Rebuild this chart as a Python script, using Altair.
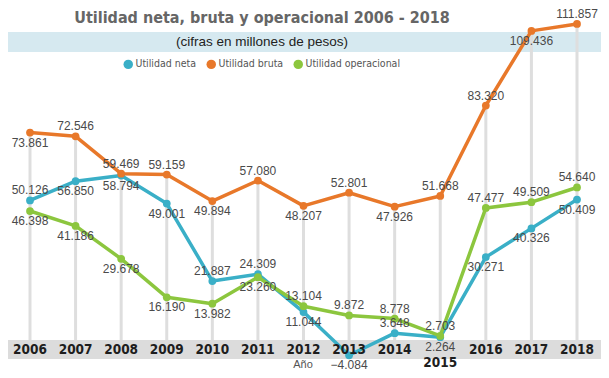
import altair as alt
import pandas as pd

# ---------------- data ----------------
years = list(range(2006, 2019))
series_names = ["Utilidad neta", "Utilidad bruta", "Utilidad operacional"]
series_colors = ["#3aafc7", "#e8782a", "#8cc63e"]

neta = [50.126, 56.850, 58.794, 49.001, 21.887, 24.309, 11.044, -4.084, 3.648, 2.264, 30.271, 40.326, 50.409]
bruta = [73.861, 72.546, 59.469, 59.159, 49.894, 57.080, 48.207, 52.801, 47.926, 51.668, 83.320, 109.436, 111.857]
operacional = [46.398, 41.186, 29.678, 16.190, 13.982, 23.260, 13.104, 9.872, 8.778, 2.703, 47.477, 49.509, 54.640]

# label placement: a = above the point, b = below the point
place_neta = list("abbbaabbabbbb")
place_bruta = list("baaabababaaba")
place_oper = list("bbbbbbaaaaaaa")

title_text = "Utilidad neta, bruta y operacional 2006 - 2018"
subtitle_text = "(cifras en millones de pesos)"
axis_title = "Año"

color_of = dict(zip(series_names, series_colors))
rows = []
for name, vals, places in zip(series_names, [neta, bruta, operacional], [place_neta, place_bruta, place_oper]):
    for yr, v, p in zip(years, vals, places):
        rows.append({"anio": yr, "valor": v, "serie": name, "pos": p, "col": color_of[name]})
df = pd.DataFrame(rows)
years_df = pd.DataFrame({"anio": years, "lbl": [str(y) for y in years]})
one = pd.DataFrame({"k": [0]})

# ---------------- layout ----------------
W, H = 593, 366
y_scale = alt.Scale(domain=[-10, 120], range=[364.2, -7.3], nice=False, zero=False)
x_enc = alt.X("anio:Q", scale=alt.Scale(domain=[2006, 2018], range=[22, 569]), axis=None)
y_enc = alt.Y("valor:Q", scale=y_scale, axis=None)
color_scale = alt.Scale(domain=series_names, range=series_colors)

cond = "DejaVu Sans Condensed, Liberation Sans Narrow, sans-serif"
regular = "Liberation Sans, Arial, sans-serif"

blue_band = alt.Chart(one).mark_rect(color="#d6e9f0").encode(
    x=alt.value(-8), x2=alt.value(W + 8), y=alt.value(24), y2=alt.value(44))
grey_band = alt.Chart(one).mark_rect(color="#dcdcdc").encode(
    x=alt.value(-8), x2=alt.value(W + 8), y=alt.value(332), y2=alt.value(351))

grid = alt.Chart(df).mark_rule(color="#dedede", strokeWidth=3).encode(
    x=x_enc, y=alt.Y("max(valor):Q", scale=y_scale, axis=None),
    y2=alt.value(332))

lines = alt.Chart(df).mark_line(strokeWidth=3.5, strokeCap="round", strokeJoin="round").encode(
    x=x_enc, y=y_enc,
    stroke=alt.Stroke("col:N", scale=None),
    detail="serie:N",
    order="anio:Q")

points = alt.Chart(df).mark_circle(size=60, opacity=1).encode(
    x=x_enc, y=y_enc,
    color=alt.Color("serie:N", scale=color_scale,
                    legend=alt.Legend(orient="none", legendX=115, legendY=51, direction="horizontal",
                                      title=None, symbolType="circle", symbolSize=90,
                                      labelFont=cond, labelFontSize=10.5, labelColor="#555555",
                                      columnPadding=9, labelOffset=2, symbolStrokeWidth=0,
                                      symbolOpacity=1)))

lab_style = dict(fontSize=12, color="#4a4a4a", font=regular)
labels_above = alt.Chart(df).transform_filter("datum.pos == 'a'").mark_text(dy=-10, **lab_style).encode(
    x=x_enc, y=y_enc, text=alt.Text("valor:Q", format=".3f"))
labels_below = alt.Chart(df).transform_filter("datum.pos == 'b'").mark_text(dy=10, **lab_style).encode(
    x=x_enc, y=y_enc, text=alt.Text("valor:Q", format=".3f"))

year_style = dict(font=cond, fontSize=13.5, fontWeight="bold", color="#1e1e1e", baseline="middle")
year_labels = alt.Chart(years_df).transform_filter("datum.anio != 2015").mark_text(**year_style).encode(
    x=x_enc, y=alt.value(342), text="lbl:N")
year_2015 = alt.Chart(years_df).transform_filter("datum.anio == 2015").mark_text(**year_style).encode(
    x=x_enc, y=alt.value(355), text="lbl:N")
ano = alt.Chart(pd.DataFrame({"t": [axis_title]})).mark_text(
    font=regular, fontSize=11, color="#555555").encode(x=alt.value(295), y=alt.value(357), text="t:N")

title = alt.Chart(pd.DataFrame({"t": [title_text]})).mark_text(
    font=cond, fontSize=16, fontWeight="bold", color="#666666", baseline="alphabetic").encode(
    x=alt.value(254), y=alt.value(15), text="t:N")
subtitle = alt.Chart(pd.DataFrame({"t": [subtitle_text]})).mark_text(
    font=regular, fontSize=13.5, color="#222222", baseline="middle").encode(
    x=alt.value(254), y=alt.value(34), text="t:N")

chart = alt.layer(
    blue_band, grey_band, grid, lines, points, labels_above, labels_below,
    year_labels, year_2015, ano, title, subtitle
).properties(
    width=W, height=H, autosize=alt.AutoSizeParams(type="none"), padding=0,
    background="white"
).configure_view(stroke=None)

chart.save("out.html", embed_options={"renderer": "svg", "actions": False})
